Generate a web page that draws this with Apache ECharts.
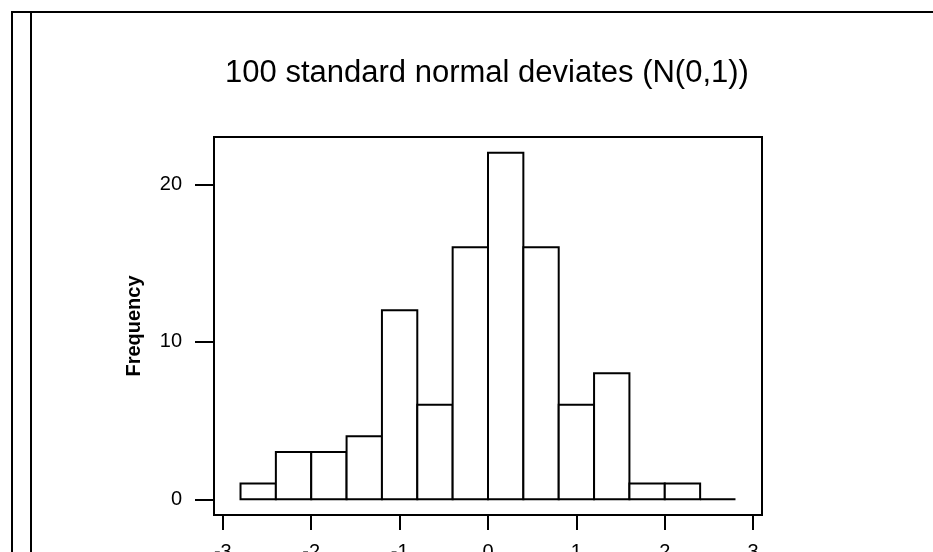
<!DOCTYPE html>
<html>
<head>
<meta charset="utf-8">
<script src="https://cdn.jsdelivr.net/npm/echarts@6/dist/echarts.min.js"></script>
<style>
  html, body { margin: 0; padding: 0; background: #fff; }
  #main { width: 933px; height: 552px; }
</style>
</head>
<body>
<div id="main"></div>
<script>
const chart = echarts.init(document.getElementById('main'));

// histogram bins (left edge, right edge) and counts
const binStarts = [-2.8, -2.4, -2.0, -1.6, -1.2, -0.8, -0.4, 0.0, 0.4, 0.8, 1.2, 1.6, 2.0, 2.4];
const binEnds = [-2.4, -2.0, -1.6, -1.2, -0.8, -0.4, 0.0, 0.4, 0.8, 1.2, 1.6, 2.0, 2.4, 2.8];
const counts = [1, 3, 3, 4, 12, 6, 16, 22, 16, 6, 8, 1, 1, 0];

const xTicks = [-3, -2, -1, 0, 1, 2, 3];
const yTicks = [0, 10, 20];

const data = binStarts.map((s, i) => [s, binEnds[i], counts[i]]);

function renderBin(params, api) {
  const top = api.coord([api.value(0), api.value(2)]);
  const bottom = api.coord([api.value(1), 0]);
  return {
    type: 'rect',
    shape: {
      x: top[0],
      y: top[1],
      width: bottom[0] - top[0],
      height: bottom[1] - top[1]
    },
    style: { fill: '#fff', stroke: '#000', lineWidth: 2 }
  };
}

const labelStyle = {
  color: '#000',
  fontSize: 20,
  fontFamily: 'Liberation Sans, Arial, sans-serif'
};

chart.setOption({
  animation: false,
  backgroundColor: '#fff',
  title: {
    text: '100 standard normal deviates (N(0,1))',
    left: 482,
    textAlign: 'center',
    top: 53,
    textStyle: {
      color: '#000',
      fontSize: 31,
      fontWeight: 'normal',
      fontFamily: 'Liberation Sans, Arial, sans-serif'
    }
  },
  grid: {
    left: 214,
    right: 171,
    top: 137,
    bottom: 37,
    outerBoundsMode: 'none',
    containLabel: false,
    show: true,
    borderColor: '#000',
    borderWidth: 2,
    backgroundColor: 'transparent'
  },
  xAxis: {
    type: 'value',
    min: -3.1,
    max: 3.1,
    splitLine: { show: false },
    axisLine: { show: true, onZero: false, lineStyle: { color: '#000', width: 2 } },
    axisTick: {
      show: true,
      length: 15,
      customValues: xTicks,
      lineStyle: { color: '#000', width: 2 }
    },
    axisLabel: Object.assign({ margin: 27, customValues: xTicks }, labelStyle)
  },
  yAxis: {
    type: 'value',
    min: -1,
    max: 23,
    name: 'Frequency',
    nameLocation: 'middle',
    nameRotate: 90,
    nameGap: 70,
    nameTextStyle: {
      color: '#000',
      fontSize: 20,
      fontWeight: 'bold',
      fontFamily: 'Liberation Sans, Arial, sans-serif'
    },
    splitLine: { show: false },
    axisLine: { show: true, onZero: false, lineStyle: { color: '#000', width: 2 } },
    axisTick: {
      show: true,
      length: 19,
      customValues: yTicks,
      lineStyle: { color: '#000', width: 2 }
    },
    axisLabel: Object.assign({ margin: 32, customValues: yTicks }, labelStyle)
  },
  graphic: [
    { type: 'line', shape: { x1: 12, y1: 11, x2: 12, y2: 552 }, style: { stroke: '#000', lineWidth: 2 } },
    { type: 'line', shape: { x1: 31, y1: 12, x2: 31, y2: 552 }, style: { stroke: '#000', lineWidth: 2 } },
    { type: 'line', shape: { x1: 11, y1: 12, x2: 933, y2: 12 }, style: { stroke: '#000', lineWidth: 2 } }
  ],
  series: [{
    type: 'custom',
    renderItem: renderBin,
    encode: { x: [0, 1], y: 2 },
    data: data
  }]
});
</script>
</body>
</html>
